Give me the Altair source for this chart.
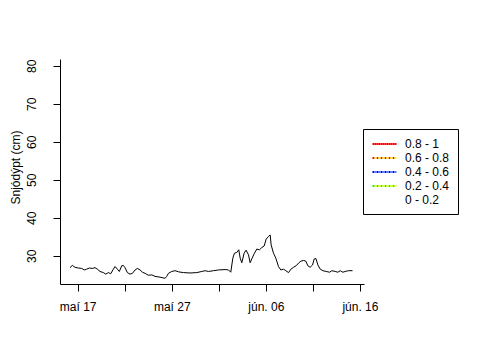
import altair as alt
import pandas as pd

# ---- data ----
days = [-0.82,-0.57,-0.29,0.07,0.42,0.71,0.95,1.24,1.56,1.84,2.09,2.37,2.73,2.98,3.26,3.51,3.79,3.97,4.22,4.43,
        4.68,4.85,5.03,5.28,5.56,5.81,6.10,6.34,6.63,6.88,7.17,7.52,7.88,8.22,8.76,9.29,9.46,9.64,10.00,10.35,
        10.71,11.24,11.95,12.66,13.19,13.54,13.90,14.43,14.96,15.67,16.03,16.27,16.49,16.66,16.91,17.12,17.27,17.44,17.69,17.90,
        18.15,18.33,18.54,18.79,19.04,19.32,19.57,19.82,20.03,20.28,20.46,20.56,20.81,21.06,21.34,21.59,21.88,22.12,22.41,22.66,
        22.94,23.22,23.47,23.72,24.00,24.25,24.46,24.71,24.96,25.14,25.32,25.53,25.78,26.06,26.41,26.77,27.02,27.37,27.65,27.90,
        28.18,28.43,28.79,29.21]
depth = [26.9,27.5,27.0,26.8,26.7,26.3,26.5,26.8,26.7,26.9,26.5,25.9,25.6,25.2,25.6,25.3,26.5,27.2,26.5,25.9,
         27.4,27.5,26.9,25.6,25.2,25.4,26.3,26.7,26.3,25.7,25.4,24.9,25.0,24.6,24.4,24.1,24.6,25.4,25.9,26.1,
         25.8,25.6,25.5,25.6,25.9,26.1,25.9,26.1,26.3,26.4,26.3,25.7,29.4,30.7,30.9,31.6,29.4,28.2,30.7,31.5,
         30.3,28.2,29.4,30.7,31.8,31.6,32.2,32.6,34.4,35.1,35.5,32.9,30.7,29.4,27.2,26.3,26.5,26.1,25.6,26.5,
         27.0,27.4,28.1,28.6,28.8,28.6,27.4,27.0,27.6,29.2,29.3,27.6,26.5,26.1,25.9,25.7,26.1,25.9,25.7,26.1,
         25.7,25.9,26.1,26.1]
base_date = "2015-05-17"

tick_months = [5, 5, 5, 6, 6, 6, 6]
tick_days = [17, 22, 27, 1, 6, 11, 16]
tick_labels = ["maí 17", "", "maí 27", "", "jún. 06", "", "jún. 16"]
y_ticks = [30, 40, 50, 60, 70, 80]

legend_cats = ["0.8 - 1", "0.6 - 0.8", "0.4 - 0.6", "0.2 - 0.4", "0 - 0.2"]
legend_base = ["#FF0000", "#FF0000", "#0000FF", "#00FF00", "#FFFFFF"]
legend_dots = ["#FF0000", "#FFFF00", "#4F81FF", "#FFFF00", "#FFFFFF"]

# ---- frames ----
df = pd.DataFrame({
    "time": pd.Timestamp(base_date) + pd.to_timedelta(days, unit="D"),
    "depth": depth,
})
df["time"] = df["time"].dt.round("min")
leg_df = pd.DataFrame({"cat": legend_cats, "time": [None] * 5, "depth": [None] * 5})
# overlay copy of the legend categories (separate domain so the legends stay separate)
cats_overlay = [c + " " for c in legend_cats]
leg_df2 = pd.DataFrame({"cat2": cats_overlay, "time": [None] * 5, "depth": [None] * 5})

FONT = "Liberation Sans"

expr = "''"
for m, d, lab in reversed(list(zip(tick_months, tick_days, tick_labels))):
    expr = f"(month(datum.value)=={m-1} && date(datum.value)=={d}) ? '{lab}' : ({expr})"

x_enc = alt.X("time:T",
              scale=alt.Scale(domain=[alt.DateTime(year=2015, month=5, date=15, hours=2, minutes=53),
                                      alt.DateTime(year=2015, month=6, date=16, hours=10, minutes=19)]),
              axis=alt.Axis(values=[alt.DateTime(year=2015, month=m, date=d) for m, d in zip(tick_months, tick_days)],
                            labelExpr=expr, title=None, grid=False, tickSize=7, labelPadding=10,
                            labelFontSize=12, labelFont=FONT, labelColor="black",
                            domainColor="black", tickColor="black", labelAngle=0))
y_enc = alt.Y("depth:Q",
              scale=alt.Scale(domain=[22.6, 81.8], nice=False, zero=False),
              axis=alt.Axis(values=y_ticks, title="Snjódýpt (cm)", grid=False, tickSize=7,
                            labelAngle=270, labelAlign="center", labelBaseline="bottom", labelPadding=15,
                            labelFontSize=12, labelFont=FONT, labelColor="black",
                            domainColor="black", tickColor="black",
                            titleFont=FONT, titleFontSize=12, titleFontWeight="normal", titleColor="black",
                            titleAngle=270, titleAlign="center", titleBaseline="middle",
                            titleX=-45, titleY=108))

main = alt.Chart(df).mark_line(color="black", strokeWidth=1).encode(x=x_enc, y=y_enc)

common_leg = dict(title=None, orient="none", legendX=303, legendY=70,
                  symbolType="M-2,0H2", symbolSize=132, symbolStrokeWidth=2,
                  symbolDash=[2, 2], padding=8, rowPadding=1,
                  labelFontSize=12, labelFont=FONT)

leg_a = alt.Chart(leg_df).mark_line().encode(
    x="time:T", y="depth:Q",
    color=alt.Color("cat:N", scale=alt.Scale(domain=legend_cats, range=legend_base),
                    legend=alt.Legend(strokeColor="black", labelColor="black",
                                      symbolOffset=6, labelOffset=14, **common_leg)))
leg_b = alt.Chart(leg_df2).mark_line().encode(
    x="time:T", y="depth:Q",
    stroke=alt.Stroke("cat2:N", scale=alt.Scale(domain=cats_overlay, range=legend_dots),
                      legend=alt.Legend(strokeColor="transparent", labelColor="transparent",
                                        symbolOffset=8, labelOffset=12, **common_leg)))

chart = alt.layer(leg_a, leg_b, main).properties(
    width=304, height=225,
    background="white",
    autosize=alt.AutoSizeParams(type="none"),
    padding={"left": 52, "top": 51, "right": 100, "bottom": 60},
).configure_view(stroke="transparent", strokeWidth=0)

chart.save("out.html", embed_options={"renderer": "svg", "actions": False})
